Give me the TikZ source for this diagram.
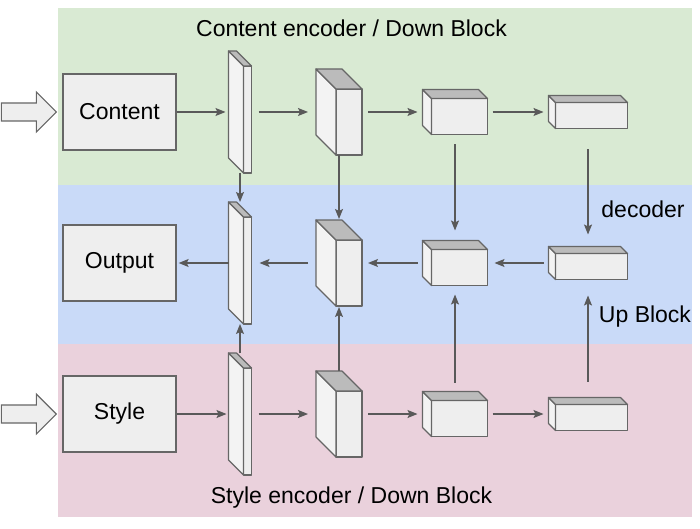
\documentclass[tikz,border=0pt]{standalone}
\usepackage{fontspec}
\setmainfont{Liberation Sans}
\usetikzlibrary{arrows.meta}

\definecolor{verde}{HTML}{D9EAD3}
\definecolor{azul}{HTML}{C9DAF8}
\definecolor{rosa}{HTML}{EAD1DC}
\definecolor{frente}{HTML}{EEEEEE}
\definecolor{lado}{HTML}{F3F3F3}
\definecolor{tapa}{HTML}{BBBBBB}
\definecolor{borde}{HTML}{666666}
\definecolor{gris}{HTML}{595959}

% cubo: nombre, x, y, ancho, alto, fondo
\newcommand{\cubo}[6]{%
  \node[envolvente, minimum width=#4+#6, minimum height=#5+#6] (#1) at (#2,#3) {};
  \draw[cara, fill=frente] (#1.south east) rectangle ++(-#4,-#5);
  \draw[cara, fill=lado] (#1.north west) -- ++(#6,#6) -- ++(0,#5) -- ++(-#6,-#6) -- cycle;
  \draw[cara, fill=tapa] (#1.north west) -- ++(#4,0) -- ++(#6,#6) -- ++(-#4,0) -- cycle;
}

\begin{document}
\begin{tikzpicture}[x=1pt, y=-1pt,
    caja/.style={draw=borde, line width=1.3pt, fill=frente, minimum width=113pt, minimum height=76pt, inner sep=0pt, font=\fontsize{23}{27}\selectfont},
    envolvente/.style={inner sep=0pt, outer sep=0pt, minimum size=0pt},
    cara/.style={draw=borde, line width=1.2pt, line join=round},
    flecha/.style={draw=gris, line width=1.2pt, -{Stealth[length=10pt, width=8pt, inset=2pt]}},
    entrada/.style={draw=borde, line width=1.2pt, fill=frente, line join=miter},
    titulo/.style={anchor=base, inner sep=0pt, font=\fontsize{23}{27}\selectfont}]
  \useasboundingbox (0,0) rectangle (700,529);

  % Fondos
  \fill[verde] (58,8) rectangle (692,185);
  \fill[azul] (58,185) rectangle (692,344);
  \fill[rosa] (58,344) rectangle (692,517);

  % Nodos
  \node[caja] (content) at (119.5,112) {Content};
  \node[caja] (output) at (119.5,263) {Output};
  \node[caja] (style) at (119.5,414) {Style};

  \cubo{c1}{240}{112}{8}{107}{15}
  \cubo{c2}{339}{112}{26}{66}{20}
  \cubo{c3}{455}{112}{56}{36}{9}
  \cubo{c4}{588}{112}{72}{26}{7}

  \cubo{d1}{240}{263}{8}{107}{15}
  \cubo{d2}{339}{263}{26}{66}{20}
  \cubo{d3}{455}{263}{56}{36}{9}
  \cubo{d4}{588}{263}{72}{26}{7}

  \cubo{s1}{240}{414}{8}{107}{15}
  \cubo{s2}{339}{414}{26}{66}{20}
  \cubo{s3}{455}{414}{56}{36}{9}
  \cubo{s4}{588}{414}{72}{26}{7}

  \node[titulo] (tcontent) at (351.5,37) {Content encoder / Down Block};
  \node[titulo] (tdecoder) at (643,218) {decoder};
  \node[titulo] (tup) at (645,322) {Up Block};
  \node[titulo] (tstyle) at (351.5,503) {Style encoder / Down Block};

  % Entradas
  \draw[entrada] ([xshift=-6pt]content.west) -- ++(-20,-20) -- ++(0,11) -- ++(-35,0) -- ++(0,18) -- ++(35,0) -- ++(0,11) -- cycle;
  \draw[entrada] ([xshift=-6pt]style.west) -- ++(-20,-20) -- ++(0,11) -- ++(-35,0) -- ++(0,18) -- ++(35,0) -- ++(0,11) -- cycle;

  % Aristas
  \draw[flecha, shorten >=3pt] (content) -- (c1);
  \draw[flecha, shorten <=7pt, shorten >=8pt] (c1) -- (c2);
  \draw[flecha, shorten <=6pt, shorten >=5pt] (c2) -- (c3);
  \draw[flecha, shorten <=5pt, shorten >=5pt] (c3) -- (c4);

  \draw[flecha, shorten <=5pt, shorten >=7pt] (d4) -- (d3);
  \draw[flecha, shorten <=5pt, shorten >=6pt] (d3) -- (d2);
  \draw[flecha, shorten <=8pt, shorten >=8pt] (d2) -- (d1);
  \draw[flecha, shorten >=2pt] (d1) -- (output);

  \draw[flecha, shorten >=2pt] (style) -- (s1);
  \draw[flecha, shorten <=7pt, shorten >=8pt] (s1) -- (s2);
  \draw[flecha, shorten <=6pt, shorten >=5pt] (s2) -- (s3);
  \draw[flecha, shorten <=5pt, shorten >=5pt] (s3) -- (s4);

  \draw[flecha] (c1) -- (d1);
  \draw[flecha, shorten >=1pt] (c2) -- (d2);
  \draw[flecha, shorten <=10pt, shorten >=10pt] (c3) -- (d3);
  \draw[flecha, shorten <=21pt, shorten >=12pt] (c4) -- (d4);

  \draw[flecha] (s1) -- (d1);
  \draw[flecha, shorten >=1pt] (s2) -- (d2);
  \draw[flecha, shorten <=9pt, shorten >=9pt] (s3) -- (d3);
  \draw[flecha, shorten <=16pt, shorten >=16pt] (s4) -- (d4);
\end{tikzpicture}
\end{document}
